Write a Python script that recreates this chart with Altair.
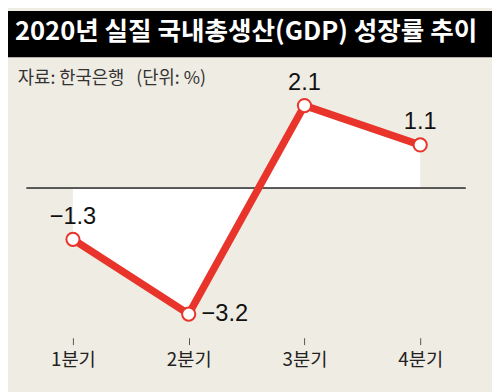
import altair as alt
import pandas as pd

title_text = "2020년 실질 국내총생산(GDP) 성장률 추이"
source_text = "자료: 한국은행\u00a0\u00a0\u00a0(단위: %)"
quarters = [1, 2, 3, 4]
quarter_suffix = "분기"
growth = [-1.3, -3.2, 2.1, 1.1]
value_labels = ["−1.3", "−3.2", "2.1", "1.1"]
label_side = ["top", "right", "top", "top"]

df = pd.DataFrame({"q": quarters, "v": growth, "lab": value_labels, "side": label_side})

W, H = 492, 332
BG = "#efece3"
RED = "#e8342a"
KFONT = "Noto Sans CJK KR"
NFONT = "Liberation Sans"

xs = alt.Scale(domain=[0.439, 4.620], nice=False, zero=False)
ys = alt.Scale(domain=[-3.8, 4.5], nice=False, zero=False)

base = alt.Chart(df)

x_enc = alt.X(
    "q:Q",
    scale=xs,
    axis=alt.Axis(
        values=quarters,
        labelExpr=f"datum.value + '{quarter_suffix}'",
        title=None,
        grid=False,
        domain=False,
        ticks=True,
        tickSize=7,
        tickColor="#555555",
        tickWidth=1,
        labelFont=KFONT,
        labelFontSize=19,
        labelColor="#222222",
        labelPadding=6,
    ),
)
y_enc = alt.Y("v:Q", scale=ys, axis=None)

area = base.mark_area(color="white", opacity=1).encode(x=x_enc, y=y_enc, y2=alt.datum(0))

zero_rule = base.mark_rule(color="#555555", strokeWidth=1.5).encode(
    y=alt.datum(0), x=alt.value(19), x2=alt.value(465)
)

line = base.mark_line(color=RED, strokeWidth=7.5).encode(x="q:Q", y="v:Q")

points = base.mark_point(
    filled=True, fill="white", stroke=RED, strokeWidth=2, size=180, opacity=1
).encode(x="q:Q", y="v:Q")

labels_top = base.transform_filter("datum.side == 'top'").mark_text(
    font=NFONT, fontSize=24, color="#111111", baseline="middle", align="center", dy=-23
).encode(x="q:Q", y="v:Q", text="lab:N")

labels_right = base.transform_filter("datum.side == 'right'").mark_text(
    font=NFONT, fontSize=24, color="#111111", baseline="middle", align="left", dx=13
).encode(x="q:Q", y="v:Q", text="lab:N")

band = alt.Chart(pd.DataFrame({"t": [title_text]})).mark_rect(color="black").encode(
    x=alt.value(0), x2=alt.value(W), y=alt.value(0), y2=alt.value(47)
)

title = alt.Chart(pd.DataFrame({"t": [title_text]})).mark_text(
    font=KFONT, fontSize=26, fontWeight="bold", color="white", align="center", baseline="middle"
).encode(x=alt.value(242), y=alt.value(21), text="t:N")

subtitle = alt.Chart(pd.DataFrame({"t": [source_text]})).mark_text(
    font=KFONT, fontSize=18, color="#333333", align="left", baseline="middle"
).encode(x=alt.value(10), y=alt.value(69), text="t:N")

chart = alt.layer(
    area, zero_rule, line, points, labels_top, labels_right, band, title, subtitle
).properties(
    width=W,
    height=H,
    background=BG,
    padding={"left": 0, "top": 0, "right": 0, "bottom": 52},
    autosize=alt.AutoSizeParams(type="none"),
).configure_view(stroke=None)

chart.save("out.html", embed_options={"renderer": "svg", "actions": False})
